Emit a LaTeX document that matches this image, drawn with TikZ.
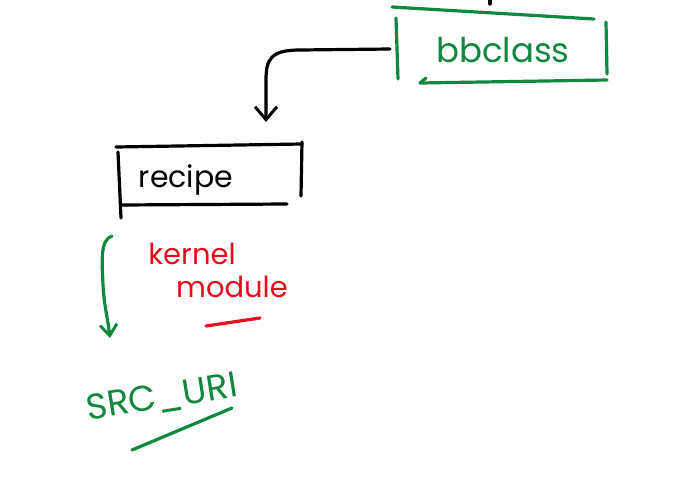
\documentclass[tikz,border=0pt]{standalone}
\usepackage{fontspec}
\setmainfont{Poppins}
\usetikzlibrary{arrows.meta}
\definecolor{pgreen}{RGB}{16,136,62}
\definecolor{pred}{RGB}{232,10,30}
\tikzset{
  pen/.style={line width=3.2pt, line cap=round, line join=round},
  gpen/.style={pen, draw=pgreen},
  kpen/.style={pen, draw=black},
  rpen/.style={pen, draw=pred},
  hand/.style={inner sep=0pt},
  barb/.style={-{Straight Barb[length=13pt,width=22pt,line width=3pt]}},
  sbarb/.style={-{Straight Barb[length=11pt,width=17pt,line width=3pt]}},
}
\begin{document}
\begin{tikzpicture}[x=1pt,y=-1pt]
\useasboundingbox (0,0) rectangle (696,479);
% bbclass box
\node[hand, text=pgreen, font=\fontsize{34}{36}\selectfont] (bb) at (503,50) {bbclass};
\draw[gpen] (392,7) -- (594,19);
\draw[gpen] (396,18) -- (398,79);
\draw[gpen] (606,22) -- (607,74);
\draw[gpen] (426,78) -- (420,83) -- (607,80);
% incoming mark from above
\coordinate (top) at (490,-3);
\draw[kpen] (top) -- (490,4);
% recipe box
\node[hand, font=\fontsize{30}{32}\selectfont] (rc) at (186,180) {recipe};
\draw[kpen] (116,147) -- (302,144);
\draw[kpen] (118,152) -- (121,218);
\draw[kpen] (302,142) -- (301,196);
\draw[kpen] (121,205) -- (287,204);
% black arrow bbclass -> recipe
\coordinate (bbL) at (390,49);
\coordinate (rcT) at (266,122);
\draw[kpen, barb] (bbL) -- (300,50) .. controls (270,50) and (266,60) .. (266,80) -- (rcT);
% green arrow recipe -> SRC_URI
\coordinate (gS) at (112,236);
\coordinate (gE) at (110,338);
\draw[gpen, sbarb] (gS) .. controls (100,240) and (102,260) .. (103,285) .. controls (104,305) and (108,320) .. (gE);
% kernel module
\node[hand, text=pred, font=\fontsize{29}{30}\selectfont] (k1) at (192,254) {kernel};
\node[hand, text=pred, font=\fontsize{29}{30}\selectfont] (k2) at (232,287) {module};
\draw[rpen] (206,326) -- (260,318);
% SRC_URI
\node[hand, text=pgreen, rotate=9, font=\fontsize{36}{38}\selectfont] (src) at (162,398) {SRC\_URI};
\draw[gpen] (132,450) -- (232,408);
\end{tikzpicture}
\end{document}
